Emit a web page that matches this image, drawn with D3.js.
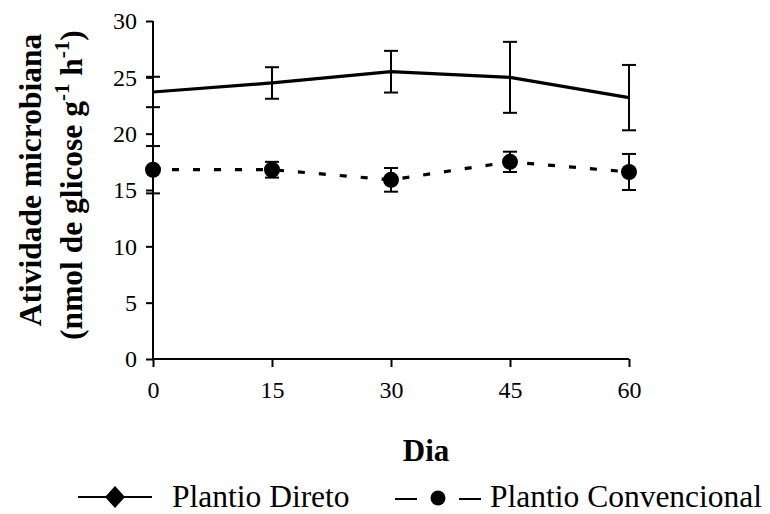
<!DOCTYPE html>
<html>
<head>
<meta charset="utf-8">
<script src="https://cdn.jsdelivr.net/npm/d3@7"></script>
<style>
  html, body { margin: 0; padding: 0; background: #fff; }
  svg { display: block; }
  text { font-family: "Liberation Serif", "Times New Roman", serif; fill: #000; }
</style>
</head>
<body>
<svg id="chart" width="770" height="514"></svg>
<script>
const days = [0, 15, 30, 45, 60];
const diretoValues = [23.7, 24.5, 25.5, 25.0, 23.2];
const diretoErrors = [1.35, 1.4, 1.85, 3.15, 2.9];
const convencionalValues = [16.8, 16.8, 15.9, 17.5, 16.6];
const convencionalErrors = [2.1, 0.7, 1.05, 0.9, 1.6];
const yTicks = [0, 5, 10, 15, 20, 25, 30];
const xTicks = [0, 15, 30, 45, 60];
const seriesNames = ["Plantio Direto", "Plantio Convencional"];

const svg = d3.select("#chart");
const x = d3.scaleLinear().domain([0, 60]).range([153, 629]);
const y = d3.scaleLinear().domain([0, 30]).range([359, 21]);

// axes
const yAxis = svg.append("g").attr("transform", "translate(153,0)")
  .call(d3.axisLeft(y).tickValues(yTicks).tickSize(7).tickPadding(9));
const xAxis = svg.append("g").attr("transform", "translate(0,359)")
  .call(d3.axisBottom(x).tickValues(xTicks).tickSize(8).tickPadding(14));
[yAxis, xAxis].forEach(a => {
  a.select(".domain").attr("stroke", "#000").attr("stroke-width", 2);
  a.selectAll(".tick line").attr("stroke", "#000").attr("stroke-width", 2);
  a.selectAll(".tick text").attr("font-family", "Liberation Serif, serif")
    .attr("font-size", 24).attr("fill", "#000");
});
yAxis.select(".domain").attr("d", "M0," + y(30) + "V" + y(0));
xAxis.select(".domain").attr("d", "M" + x(0) + ",0H" + x(60));

const dataD = days.map((d, i) => ({d, v: diretoValues[i], e: diretoErrors[i]}));
const dataC = days.map((d, i) => ({d, v: convencionalValues[i], e: convencionalErrors[i]}));

function errorBars(data) {
  const g = svg.append("g").attr("stroke", "#000").attr("stroke-width", 2).attr("fill", "none");
  data.forEach(p => {
    const cx = x(p.d), yt = y(p.v + p.e), yb = y(p.v - p.e);
    g.append("line").attr("x1", cx).attr("x2", cx).attr("y1", yt).attr("y2", yb);
    g.append("line").attr("x1", cx - 7).attr("x2", cx + 7).attr("y1", yt).attr("y2", yt);
    g.append("line").attr("x1", cx - 7).attr("x2", cx + 7).attr("y1", yb).attr("y2", yb);
  });
}
errorBars(dataD);
errorBars(dataC);

const line = d3.line().x(p => x(p.d)).y(p => y(p.v));
svg.append("path").datum(dataD).attr("d", line)
  .attr("fill", "none").attr("stroke", "#000").attr("stroke-width", 3.2);
svg.append("path").datum(dataC).attr("d", line)
  .attr("fill", "none").attr("stroke", "#000").attr("stroke-width", 3.2)
  .attr("stroke-dasharray", "7,14").attr("stroke-dashoffset", 2);

svg.append("g").selectAll("circle").data(dataC).join("circle")
  .attr("cx", p => x(p.d)).attr("cy", p => y(p.v)).attr("r", 8).attr("fill", "#000");

// axis titles
svg.append("text").attr("x", 426).attr("y", 461).attr("text-anchor", "middle")
  .attr("font-size", 31).attr("font-weight", "bold").text("Dia");

const yl = svg.append("g").attr("transform", "translate(41,180) rotate(-90)");
yl.append("text").attr("text-anchor", "middle").attr("font-size", 31.5).attr("font-weight", "bold")
  .text("Atividade microbiana");
const yl2 = svg.append("g").attr("transform", "translate(82,185) rotate(-90)");
const t2 = yl2.append("text").attr("text-anchor", "middle").attr("font-size", 31.5).attr("font-weight", "bold");
t2.append("tspan").text("(nmol de glicose g");
t2.append("tspan").attr("dy", -13).attr("font-size", 21).text("-1");
t2.append("tspan").attr("dy", 13).text(" h");
t2.append("tspan").attr("dy", -13).attr("font-size", 21).text("-1");
t2.append("tspan").attr("dy", 13).text(")");

// legend
const lg = svg.append("g");
lg.append("line").attr("x1", 78).attr("x2", 152).attr("y1", 497).attr("y2", 497)
  .attr("stroke", "#000").attr("stroke-width", 2);
lg.append("path").attr("d", d3.symbol().type(d3.symbolSquare).size(200)())
  .attr("transform", "translate(115,497) scale(1,1.1) rotate(45)").attr("fill", "#000");
lg.append("text").attr("x", 172).attr("y", 507).attr("font-size", 31.5).text(seriesNames[0]);
lg.append("line").attr("x1", 395).attr("x2", 417).attr("y1", 499).attr("y2", 499)
  .attr("stroke", "#000").attr("stroke-width", 2);
lg.append("circle").attr("cx", 438).attr("cy", 498).attr("r", 7.5).attr("fill", "#000");
lg.append("line").attr("x1", 459).attr("x2", 481).attr("y1", 499).attr("y2", 499)
  .attr("stroke", "#000").attr("stroke-width", 2);
lg.append("text").attr("x", 490).attr("y", 507).attr("font-size", 31.5).text(seriesNames[1]);
</script>
</body>
</html>
